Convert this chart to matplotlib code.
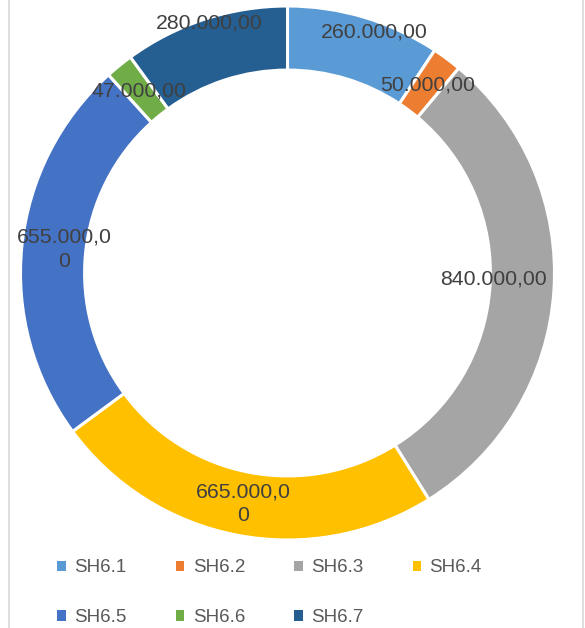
import matplotlib.pyplot as plt
from matplotlib.patches import Patch
from matplotlib.lines import Line2D
import numpy as np

plt.rcParams['font.family'] = ['Liberation Sans', 'DejaVu Sans']

# data
categories = ["SH6.1", "SH6.2", "SH6.3", "SH6.4", "SH6.5", "SH6.6", "SH6.7"]
values = [260000, 50000, 840000, 665000, 655000, 47000, 280000]
label_texts = ["260.000,00", "50.000,00", "840.000,00", "665.000,0\n0",
               "655.000,0\n0", "47.000,00", "280.000,00"]
colors = ["#5B9BD5", "#ED7D31", "#A5A5A5", "#FFC000", "#4472C4", "#70AD47", "#255E91"]

# Excel moved a few labels away from the ring centre
label_shift = {0: (0.07, 0.06), 2: (-0.108, 0.04), 4: (0.04, 0.0), 6: (-0.02, 0.10)}

W, H = 585, 628
fig = plt.figure(figsize=(W / 100, H / 100), dpi=100)
cx, cy, R = 287.5, 273, 267
ax = fig.add_axes([(cx - R) / W, 1 - (cy + R) / H, 2 * R / W, 2 * R / H])

wedges, _ = ax.pie(values, colors=colors, startangle=90, counterclock=False,
                   radius=1.0, wedgeprops=dict(width=0.24, edgecolor="white", linewidth=2.2))
ax.set_xlim(-1, 1)
ax.set_ylim(-1, 1)
ax.set_aspect("equal")
ax.axis("off")

# labels at the middle of the ring
total = sum(values)
cum = np.cumsum(values) - np.array(values) / 2
r_mid = 0.88
for i, (c, txt) in enumerate(zip(cum, label_texts)):
    ang = 2 * np.pi * c / total
    x, y = r_mid * np.sin(ang), r_mid * np.cos(ang)
    dx, dy = label_shift.get(i, (0, 0))
    ax.text(x + dx, y + dy, txt, ha="center", va="center", fontsize=15.3,
            color="#404040", linespacing=1.35)

# legend, row-major order
handles = [Patch(facecolor=c, edgecolor="none") for c in colors]
order = [0, 4, 1, 5, 2, 6, 3]
fig.legend([handles[i] for i in order], [categories[i] for i in order],
           ncol=4, loc="upper left", bbox_to_anchor=(48 / W, 1 - 550 / H),
           frameon=False, fontsize=13.5, handlelength=0.45, handleheight=0.45,
           handletextpad=0.45, columnspacing=2.62, labelspacing=1.75,
           borderpad=0, labelcolor="#595959")

# chart area border (left / right edges)
fig.add_artist(Line2D([8.5 / W, 8.5 / W], [0, 1], color="#D9D9D9", lw=1.2))
fig.add_artist(Line2D([583 / W, 583 / W], [0, 1], color="#D9D9D9", lw=1.2))

fig.savefig("out.png", dpi=100)
